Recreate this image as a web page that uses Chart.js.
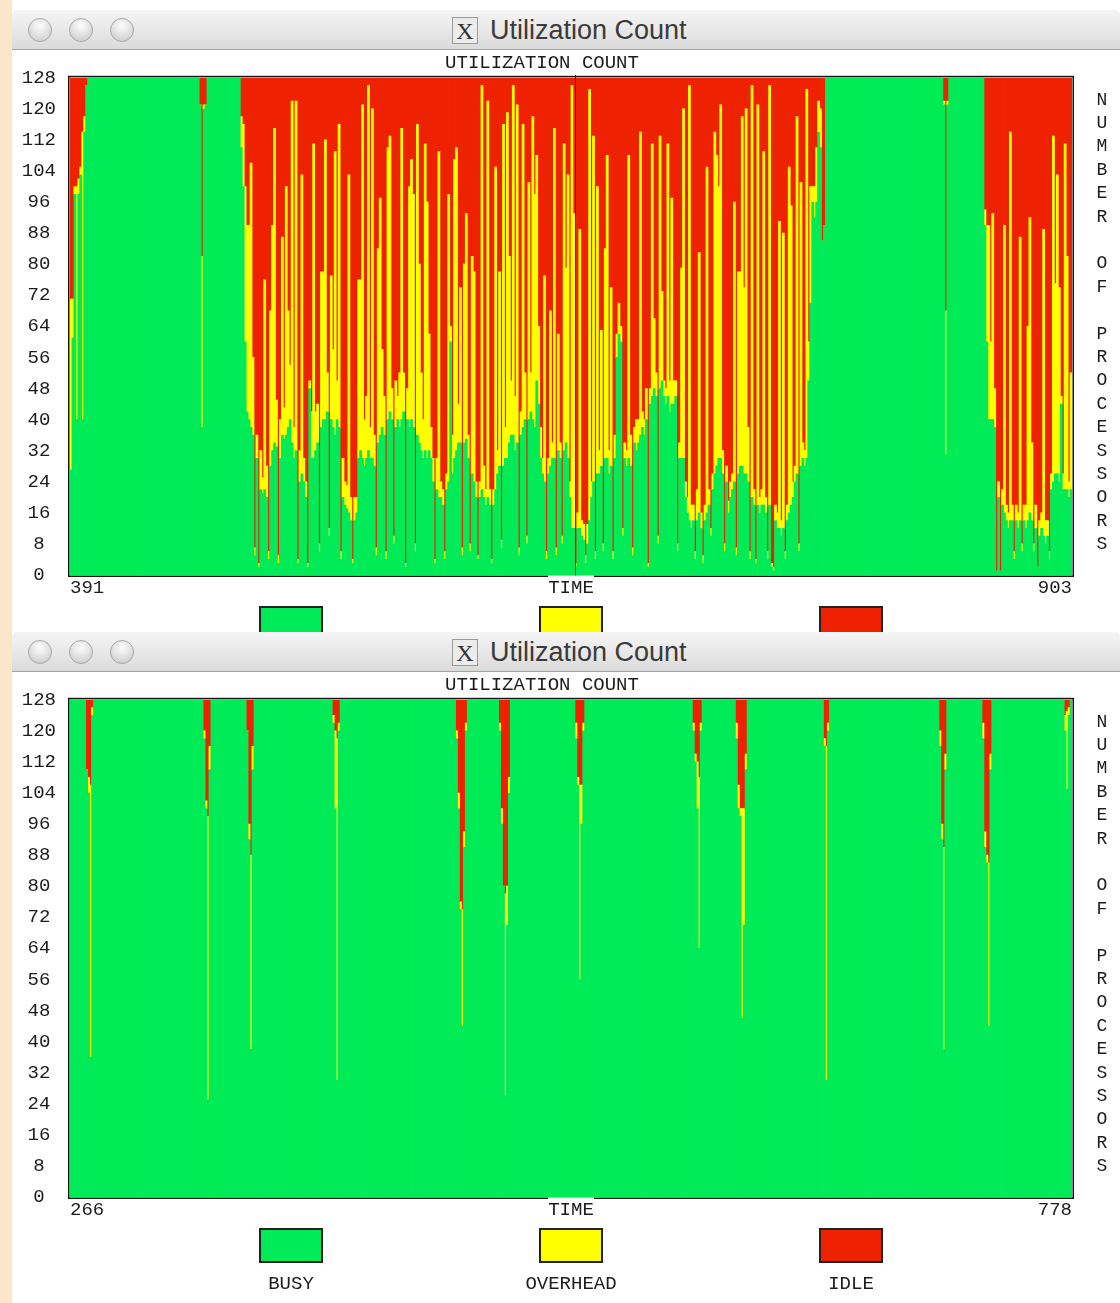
<!DOCTYPE html>
<html>
<head>
<meta charset="utf-8">
<title>Utilization Count</title>
<script src="https://cdn.jsdelivr.net/npm/chart.js@4.4.0/dist/chart.umd.min.js"></script>
<style>
  html, body { margin: 0; padding: 0; }
  body { width: 1120px; height: 1303px; position: relative; overflow: hidden; background: #fff; }
  .strip { position: absolute; left: 0; top: 0; width: 12px; height: 1303px; background: #fbe6cb; }
  .win { position: absolute; left: 12px; width: 1108px; background: #fff; overflow: hidden; }
  #w1 { top: 10px; height: 622px; }
  #w2 { top: 632px; height: 671px; }
  .bar { position: relative; height: 40px; box-sizing: border-box; border-bottom: 1px solid #a4a4a4;
         background: linear-gradient(#f5f5f5, #e6e6e6 60%, #dadada); border-radius: 5px 5px 0 0; }
  .dot { position: absolute; top: 8px; width: 24px; height: 24px; border-radius: 50%; box-sizing: border-box;
         border: 1px solid #a6a6a6; background: radial-gradient(circle at 50% 30%, #fdfdfd, #d4d4d4 75%); }
  .xicon { position: absolute; left: 440px; top: 7px; width: 26px; height: 27px; box-sizing: border-box;
           border: 1px solid #9a9a9a; background: #ececec; font: 24px "Liberation Serif", serif; line-height: 26px;
           color: #333; text-align: center; }
  .ttl { position: absolute; left: 478px; top: 0; font: 27px "Liberation Sans", Arial, sans-serif; line-height: 40px;
         color: #3a3a3a; }
  canvas { display: block; }
</style>
</head>
<body>
<div class="strip"></div>

<div class="win" id="w1">
  <div class="bar">
    <div class="dot" style="left:16px"></div>
    <div class="dot" style="left:57px"></div>
    <div class="dot" style="left:98px"></div>
    <div class="xicon">X</div>
    <div class="ttl">Utilization Count</div>
  </div>
  <canvas id="chartTop" width="1108" height="582"></canvas>
</div>

<div class="win" id="w2">
  <div class="bar">
    <div class="dot" style="left:16px"></div>
    <div class="dot" style="left:57px"></div>
    <div class="dot" style="left:98px"></div>
    <div class="xicon">X</div>
    <div class="ttl">Utilization Count</div>
  </div>
  <canvas id="chartBottom" width="1108" height="631"></canvas>
</div>

<script>
const TOTAL = 128;
const seriesNames = ["BUSY", "OVERHEAD", "IDLE"];
const seriesColors = ["#00eb57", "#ffff00", "#ee2200"];
const chartTitle = "UTILIZATION COUNT";
const xTitle = "TIME";
const yTitle = "NUMBER OF PROCESSORS";

// top window: one bin per time unit, 391 .. 903
const topStart = 391, topEnd = 903;
const topMarker = 649;
const busyTop = [
  27,61,98,40,98,103,40,114,126,128,128,128,128,128,128,128,
  128,128,128,128,128,128,128,128,128,128,128,128,128,128,128,128,
  128,128,128,128,128,128,128,128,128,128,128,128,128,128,128,128,
  128,128,128,128,128,128,128,128,128,128,128,128,128,128,128,128,
  128,128,121,38,120,121,128,128,128,128,128,128,128,128,128,128,
  128,128,128,128,128,128,128,110,100,60,42,40,38,36,5,30,
  2,22,21,22,20,4,28,32,34,33,3,30,36,35,36,38,
  40,34,30,32,3,24,26,24,20,2,48,30,30,32,34,6,
  38,40,40,42,10,40,38,36,40,38,4,20,18,17,16,14,
  3,14,16,30,32,30,28,30,32,30,30,28,5,34,36,38,
  36,4,40,42,40,8,38,40,38,40,42,2,40,38,40,38,
  6,36,34,32,30,32,30,32,30,24,3,22,20,20,18,4,
  22,24,60,26,30,32,34,34,5,34,35,30,6,26,24,20,
  4,20,22,20,18,20,18,3,18,22,26,28,7,28,30,30,
  34,36,36,32,34,5,36,38,40,8,40,42,40,38,50,44,
  30,26,24,4,26,28,30,30,5,32,30,8,32,34,30,20,
  12,12,2,12,12,10,9,3,8,14,20,24,4,26,26,28,
  6,30,30,26,28,4,30,56,62,60,10,30,28,30,28,5,
  34,32,34,36,38,36,40,2,44,46,48,46,8,48,50,46,
  44,46,42,44,44,46,6,30,30,30,20,16,14,12,14,4,
  14,16,12,3,14,16,18,10,22,26,28,30,30,26,6,24,
  16,20,22,24,5,26,28,28,26,26,24,4,20,18,3,18,
  16,18,18,16,4,18,2,1,14,12,12,10,12,4,14,16,
  18,20,24,26,6,28,30,28,30,50,70,96,92,96,114,110,
  86,90,128,128,128,128,128,128,128,128,128,128,128,128,128,128,
  128,128,128,128,128,128,128,128,128,128,128,128,128,128,128,128,
  128,128,128,128,128,128,128,128,128,128,128,128,128,128,128,128,
  128,128,128,128,128,128,128,128,128,128,128,128,128,128,121,31,
  121,128,128,128,128,128,128,128,128,128,128,128,128,128,128,128,
  128,128,128,90,60,40,40,40,38,1,20,1,18,16,14,12,
  14,14,4,14,12,14,6,14,12,14,16,14,6,12,2,10,
  12,10,8,10,4,22,24,26,26,24,44,22,22,22,20,22
];
const overheadTop = [
  44,10,2,60,4,2,74,4,0,0,0,0,0,0,0,0,
  0,0,0,0,0,0,0,0,0,0,0,0,0,0,0,0,
  0,0,0,0,0,0,0,0,0,0,0,0,0,0,0,0,
  0,0,0,0,0,0,0,0,0,0,0,0,0,0,0,0,
  0,0,0,44,1,0,0,0,0,0,0,0,0,0,0,0,
  0,0,0,0,0,0,0,8,16,40,48,50,68,20,2,6,
  1,10,4,54,8,2,40,58,81,12,2,10,51,8,64,30,
  14,88,8,90,1,8,77,6,4,1,2,12,81,10,10,2,
  40,38,72,10,2,37,20,73,10,78,2,10,6,6,87,6,
  1,6,4,46,44,91,12,16,94,8,90,8,2,50,61,20,
  10,2,70,71,8,2,12,6,14,75,10,1,8,62,67,60,
  2,80,46,20,10,79,66,30,8,6,1,8,89,4,4,2,
  4,74,4,10,77,78,10,40,2,46,58,6,2,56,54,4,
  1,4,104,8,4,102,4,1,4,83,6,50,2,88,8,89,
  48,14,90,14,87,2,6,78,12,2,61,10,78,60,58,20,
  8,4,53,2,4,40,4,85,2,30,4,2,79,45,73,4,
  114,81,1,4,77,4,4,2,5,111,4,89,2,74,6,35,
  2,54,78,6,46,2,6,6,8,4,2,4,4,78,8,2,
  4,8,6,78,4,4,8,1,4,65,18,6,2,65,23,4,
  4,65,8,53,6,4,2,4,49,90,4,4,112,6,4,2,
  8,67,4,2,4,89,4,2,4,88,80,70,91,6,2,4,
  3,4,4,72,2,52,50,90,48,94,14,2,106,4,1,103,
  4,4,91,4,2,108,1,1,4,4,79,4,76,2,4,89,
  77,4,4,92,2,73,4,4,95,10,30,4,8,14,8,10,
  0,0,0,0,0,0,0,0,0,0,0,0,0,0,0,0,
  0,0,0,0,0,0,0,0,0,0,0,0,0,0,0,0,
  0,0,0,0,0,0,0,0,0,0,0,0,0,0,0,0,
  0,0,0,0,0,0,0,0,0,0,0,0,0,0,1,37,
  1,0,0,0,0,0,0,0,0,0,0,0,0,0,0,0,
  0,0,0,4,30,50,20,53,10,0,4,0,4,74,4,4,
  100,4,2,4,4,73,2,4,6,50,76,20,2,6,0,4,
  4,79,6,4,2,4,89,49,77,50,2,4,89,60,4,30
];

// bottom window: fully busy except at these time bins, 266 .. 778
const bottomStart = 266, bottomEnd = 778;
const dipTimes = [274,275,276,277, 334,335,336,337, 356,357,358,359, 400,401,402,403,
  463,464,465,466,467,468, 485,486,487,488,489,490, 524,525,526,527,528,
  584,585,586,587,588, 606,607,608,609,610,611, 651,652,653,
  710,711,712,713, 732,733,734,735,736, 774,775,776];
const dipBusy = [110,104,36,124, 118,100,25,110, 120,92,38,110, 122,100,30,120,
  118,100,74,44,90,120, 120,96,80,26,70,104, 118,106,56,96,120,
  120,112,100,64,120, 118,100,98,46,70,110, 116,30,120,
  116,92,38,110, 118,90,86,44,110, 120,105,124];
const dipOverhead = [0,4,70,2, 2,2,73,6, 0,4,50,6, 2,20,88,2,
  2,4,2,30,4,2, 2,4,0,52,10,4, 4,2,50,10,2,
  2,2,12,44,2, 4,6,2,54,30,4, 2,86,2,
  4,4,52,4, 4,4,2,42,4, 4,20,2];

const busyBottom = [];
const overheadBottom = [];
for (let t = bottomStart; t < bottomEnd; t++) {
  const k = dipTimes.indexOf(t);
  busyBottom.push(k >= 0 ? dipBusy[k] : TOTAL);
  overheadBottom.push(k >= 0 ? dipOverhead[k] : 0);
}

const textColor = "#1c1c1c";
const monoFont = (size) => ({ family: "Liberation Mono", size: size, weight: "normal" });

// frame, TIME label, vertical axis title, marker line and legend boxes
const decorPlugin = {
  id: "decor",
  afterDraw(chart, args, opts) {
    const { ctx, chartArea: a } = chart;
    ctx.save();
    if (opts.marker != null) {
      const mx = Math.round(chart.scales.x.getPixelForValue(opts.marker)) + 0.5;
      ctx.strokeStyle = "rgba(60,45,0,0.85)";
      ctx.lineWidth = 1;
      ctx.beginPath();
      ctx.moveTo(mx, a.top - 3);
      ctx.lineTo(mx, a.bottom + 3);
      ctx.stroke();
    }
    ctx.strokeStyle = "#151515";
    ctx.lineWidth = 1.5;
    ctx.strokeRect(a.left - 1.25, a.top - 1.25, a.right - a.left + 2.5, a.bottom - a.top + 2.5);

    const cx = (a.left + a.right) / 2;
    ctx.font = "19px 'Liberation Mono'";
    ctx.fillStyle = "#fff";
    ctx.fillRect(cx - 23, a.bottom + 0.5, 46, 22);
    ctx.fillStyle = textColor;
    ctx.textAlign = "center";
    ctx.textBaseline = "middle";
    ctx.fillText(xTitle, cx, a.bottom + 13);

    ctx.font = "18px 'Liberation Mono'";
    yTitle.split("").forEach((ch, k) => {
      if (ch !== " ") ctx.fillText(ch, a.right + 30, a.top + 22 + k * 23.4);
    });

    const centers = [279, 559, 839];
    chart.data.datasets.forEach((ds, k) => {
      const bx = centers[k] - 31, by = a.bottom + 32;
      ctx.fillStyle = ds.backgroundColor;
      ctx.fillRect(bx, by, 62, 33);
      ctx.strokeStyle = "#222";
      ctx.lineWidth = 2;
      ctx.strokeRect(bx, by, 62, 33);
      ctx.fillStyle = textColor;
      ctx.font = "19px 'Liberation Mono'";
      ctx.fillText(ds.label, centers[k], a.bottom + 87);
    });
    ctx.restore();
  }
};

const makeChart = (canvasId, start, end, busy, overhead, marker) => {
  const canvas = document.getElementById(canvasId);
  const idle = busy.map((b, i) => Math.max(0, TOTAL - b - overhead[i]));
  const toPoints = (values) => values.map((v, i) => ({ x: start + i + 0.5, y: v }));
  const axisHeight = canvas.height - 525;

  new Chart(canvas, {
    type: "bar",
    data: {
      datasets: [busy, overhead, idle].map((values, k) => ({
        label: seriesNames[k],
        data: toPoints(values),
        backgroundColor: seriesColors[k],
        borderWidth: 0,
        barPercentage: 1,
        categoryPercentage: 1,
        inflateAmount: 0.4,
      })),
    },
    options: {
      responsive: false,
      animation: false,
      events: [],
      layout: { padding: { left: 0, right: 48, top: 0, bottom: 0 } },
      plugins: {
        legend: { display: false },
        tooltip: { enabled: false },
        title: {
          display: true,
          text: chartTitle,
          color: textColor,
          font: monoFont(19),
          padding: { top: 2, bottom: 3 },
        },
        decor: { marker: marker },
      },
      scales: {
        x: {
          type: "linear",
          stacked: true,
          offset: false,
          min: start,
          max: end,
          grid: { display: false, drawTicks: false, offset: false },
          border: { display: false },
          afterBuildTicks: (scale) => { scale.ticks = [{ value: start }, { value: end }]; },
          afterFit: (scale) => { scale.height = axisHeight; },
          ticks: {
            align: "inner",
            padding: 2,
            maxRotation: 0,
            autoSkip: false,
            color: textColor,
            font: monoFont(19),
            callback: (v) => String(v),
          },
        },
        y: {
          stacked: true,
          min: 0,
          max: TOTAL,
          grid: { display: false, drawTicks: false },
          border: { display: false },
          afterFit: (scale) => { scale.width = 58; },
          ticks: {
            stepSize: 8,
            autoSkip: false,
            crossAlign: "center",
            padding: 14,
            color: textColor,
            font: monoFont(19),
          },
        },
      },
    },
    plugins: [decorPlugin],
  });
};

makeChart("chartTop", topStart, topEnd, busyTop, overheadTop, topMarker);
makeChart("chartBottom", bottomStart, bottomEnd, busyBottom, overheadBottom, null);
</script>
</body>
</html>
